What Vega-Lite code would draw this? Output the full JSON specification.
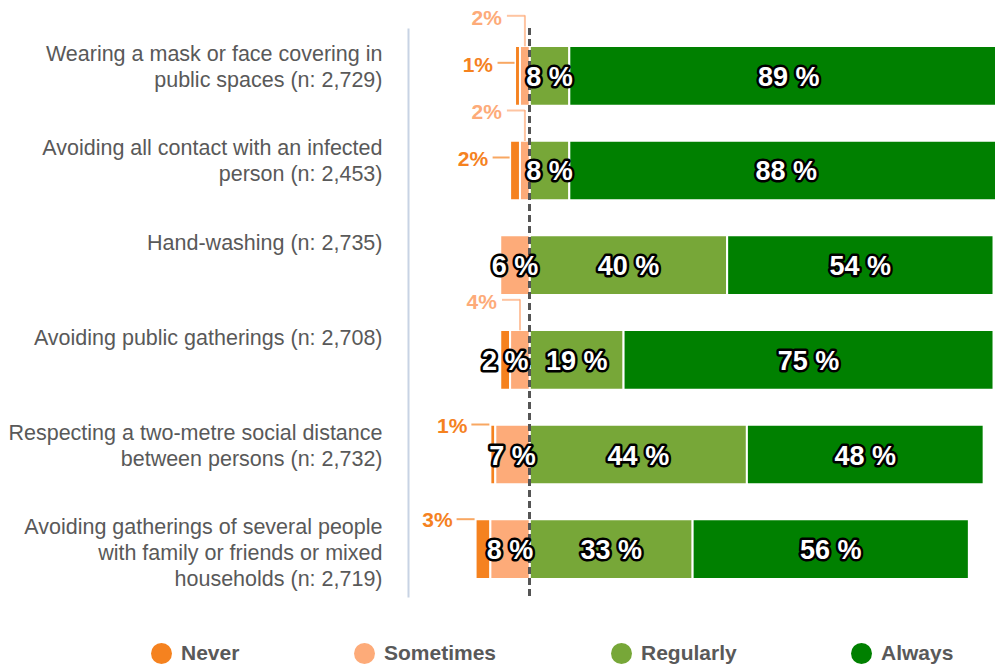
{
  "$schema": "https://vega.github.io/schema/vega-lite/v6.json",
  "width": 587,
  "height": 569,
  "autosize": {"type": "none"},
  "padding": {"left": 408, "top": 28, "right": 0, "bottom": 68},
  "background": "white",
  "config": {
    "view": {"stroke": null},
    "font": "Liberation Sans",
    "axisY": {
      "domainColor": "#c8d3e4",
      "domainWidth": 2,
      "ticks": false,
      "grid": false,
      "labelFontSize": 21.5,
      "labelColor": "#595959",
      "labelFont": "Liberation Sans",
      "labelPadding": 26,
      "labelLimit": 0,
      "labelLineHeight": 26,
      "labelBaseline": "middle",
      "labelOffset": -21,
      "title": null
    }
  },
  "data": {
    "values": [
      {"item": "Wearing a mask or face covering in|public spaces (n: 2,729)", "response": "Never", "pct": 1},
      {"item": "Wearing a mask or face covering in|public spaces (n: 2,729)", "response": "Sometimes", "pct": 2},
      {"item": "Wearing a mask or face covering in|public spaces (n: 2,729)", "response": "Regularly", "pct": 8},
      {"item": "Wearing a mask or face covering in|public spaces (n: 2,729)", "response": "Always", "pct": 89},
      {"item": "Avoiding all contact with an infected|person (n: 2,453)", "response": "Never", "pct": 2},
      {"item": "Avoiding all contact with an infected|person (n: 2,453)", "response": "Sometimes", "pct": 2},
      {"item": "Avoiding all contact with an infected|person (n: 2,453)", "response": "Regularly", "pct": 8},
      {"item": "Avoiding all contact with an infected|person (n: 2,453)", "response": "Always", "pct": 88},
      {"item": "Hand-washing (n: 2,735)", "response": "Never", "pct": 0},
      {"item": "Hand-washing (n: 2,735)", "response": "Sometimes", "pct": 6},
      {"item": "Hand-washing (n: 2,735)", "response": "Regularly", "pct": 40},
      {"item": "Hand-washing (n: 2,735)", "response": "Always", "pct": 54},
      {"item": "Avoiding public gatherings (n: 2,708)", "response": "Never", "pct": 2},
      {"item": "Avoiding public gatherings (n: 2,708)", "response": "Sometimes", "pct": 4},
      {"item": "Avoiding public gatherings (n: 2,708)", "response": "Regularly", "pct": 19},
      {"item": "Avoiding public gatherings (n: 2,708)", "response": "Always", "pct": 75},
      {"item": "Respecting a two-metre social distance|between persons (n: 2,732)", "response": "Never", "pct": 1},
      {"item": "Respecting a two-metre social distance|between persons (n: 2,732)", "response": "Sometimes", "pct": 7},
      {"item": "Respecting a two-metre social distance|between persons (n: 2,732)", "response": "Regularly", "pct": 44},
      {"item": "Respecting a two-metre social distance|between persons (n: 2,732)", "response": "Always", "pct": 48},
      {"item": "Avoiding gatherings of several people|with family or friends or mixed|households (n: 2,719)", "response": "Never", "pct": 3},
      {"item": "Avoiding gatherings of several people|with family or friends or mixed|households (n: 2,719)", "response": "Sometimes", "pct": 8},
      {"item": "Avoiding gatherings of several people|with family or friends or mixed|households (n: 2,719)", "response": "Regularly", "pct": 33},
      {"item": "Avoiding gatherings of several people|with family or friends or mixed|households (n: 2,719)", "response": "Always", "pct": 56}
    ]
  },
  "transform": [
    {"calculate": "datum.response == 'Never' || datum.response == 'Sometimes' ? -datum.pct : datum.pct", "as": "signed"},
    {"calculate": "datum.response == 'Sometimes' ? 0 : datum.response == 'Never' ? 1 : datum.response == 'Regularly' ? 2 : 3", "as": "ord"},
    {"stack": "signed", "groupby": ["item"], "sort": [{"field": "ord", "order": "ascending"}], "as": ["x0", "x1"]},
    {"calculate": "(datum.x0 + datum.x1) / 2", "as": "mid"},
    {"calculate": "min(datum.x0, datum.x1)", "as": "leftEdge"},
    {"calculate": "datum.pct + ' %'", "as": "lab"},
    {"calculate": "datum.pct + '%'", "as": "clab"}
  ],
  "layer": [
    {
      "transform": [{"filter": "datum.pct > 0"}],
      "mark": {"type": "bar", "stroke": "white", "strokeWidth": 2, "clip": true},
      "encoding": {
        "y": {"field": "item", "type": "nominal", "sort": null, "scale": {"paddingInner": 0.37, "paddingOuter": 0.19}, "axis": {"labelExpr": "split(datum.value, '|')"}},
        "x": {"field": "x0", "type": "quantitative", "scale": {"domain": [-24.7, 94.3], "nice": false, "zero": false}, "axis": null},
        "x2": {"field": "x1"},
        "color": {
          "field": "response",
          "type": "nominal",
          "scale": {"domain": ["Never", "Sometimes", "Regularly", "Always"], "range": ["#f5821f", "#fdab79", "#77a738", "#008000"]},
          "legend": {
            "title": null,
            "orient": "none",
            "legendX": -257,
            "legendY": 615,
            "direction": "horizontal",
            "columns": 4,
            "columnPadding": 114,
            "symbolType": "circle",
            "symbolSize": 440,
            "symbolStrokeWidth": 0,
            "labelFontSize": 21,
            "labelFontWeight": "bold",
            "labelColor": "#595959",
            "labelFont": "Liberation Sans",
            "labelOffset": 9,
            "labelLimit": 0
          }
        }
      }
    },
    {
      "mark": {"type": "rule", "color": "#555555", "strokeWidth": 2, "strokeDash": [7, 4]},
      "encoding": {"x": {"datum": 0}}
    },
    {
      "transform": [{"filter": "datum.pct >= 5 || (datum.response == 'Never' && indexof(datum.item, 'Avoiding public gatherings') == 0)"}],
      "mark": {"type": "text", "fontSize": 27, "fontWeight": "bold", "fill": "black", "stroke": "black", "strokeWidth": 5, "strokeJoin": "round", "align": "center", "baseline": "middle", "dy": 2},
      "encoding": {
        "y": {"field": "item", "type": "nominal", "sort": null, "axis": {"labelExpr": "split(datum.value, '|')"}},
        "x": {"field": "mid", "type": "quantitative"},
        "text": {"field": "lab"}
      }
    },
    {
      "transform": [{"filter": "datum.pct >= 5 || (datum.response == 'Never' && indexof(datum.item, 'Avoiding public gatherings') == 0)"}],
      "mark": {"type": "text", "fontSize": 27, "fontWeight": "bold", "fill": "white", "align": "center", "baseline": "middle", "dy": 2},
      "encoding": {
        "y": {"field": "item", "type": "nominal", "sort": null, "axis": {"labelExpr": "split(datum.value, '|')"}},
        "x": {"field": "mid", "type": "quantitative"},
        "text": {"field": "lab"}
      }
    },
    {
      "transform": [{"filter": "datum.response == 'Sometimes' && datum.pct < 5"}],
      "mark": {"type": "tick", "orient": "vertical", "size": 31, "thickness": 2, "color": "#fdab79", "yOffset": -45},
      "encoding": {
        "y": {"field": "item", "type": "nominal", "sort": null, "axis": {"labelExpr": "split(datum.value, '|')"}},
        "x": {"field": "mid", "type": "quantitative"}
      }
    },
    {
      "transform": [{"filter": "datum.response == 'Sometimes' && datum.pct < 5"}],
      "mark": {"type": "tick", "orient": "horizontal", "size": 18, "thickness": 2, "color": "#fdab79", "yOffset": -60, "xOffset": -9},
      "encoding": {
        "y": {"field": "item", "type": "nominal", "sort": null, "axis": {"labelExpr": "split(datum.value, '|')"}},
        "x": {"field": "mid", "type": "quantitative"}
      }
    },
    {
      "transform": [{"filter": "datum.response == 'Sometimes' && datum.pct < 5"}],
      "mark": {"type": "text", "fontSize": 21, "fontWeight": "bold", "color": "#fdab79", "align": "right", "baseline": "middle", "dx": -23, "dy": -57},
      "encoding": {
        "y": {"field": "item", "type": "nominal", "sort": null, "axis": {"labelExpr": "split(datum.value, '|')"}},
        "x": {"field": "mid", "type": "quantitative"},
        "text": {"field": "clab"}
      }
    },
    {
      "transform": [{"filter": "datum.response == 'Never' && (indexof(datum.item, 'Wearing') == 0 || indexof(datum.item, 'Avoiding all') == 0)"}],
      "mark": {"type": "tick", "orient": "horizontal", "size": 17, "thickness": 2, "color": "#f5821f", "yOffset": -13, "xOffset": -9},
      "encoding": {
        "y": {"field": "item", "type": "nominal", "sort": null, "axis": {"labelExpr": "split(datum.value, '|')"}},
        "x": {"field": "leftEdge", "type": "quantitative"}
      }
    },
    {
      "transform": [{"filter": "datum.response == 'Never' && (indexof(datum.item, 'Wearing') == 0 || indexof(datum.item, 'Avoiding all') == 0)"}],
      "mark": {"type": "text", "fontSize": 21, "fontWeight": "bold", "color": "#f5821f", "align": "right", "baseline": "middle", "dx": -22, "dy": -10},
      "encoding": {
        "y": {"field": "item", "type": "nominal", "sort": null, "axis": {"labelExpr": "split(datum.value, '|')"}},
        "x": {"field": "leftEdge", "type": "quantitative"},
        "text": {"field": "clab"}
      }
    },
    {
      "transform": [{"filter": "datum.response == 'Never' && (indexof(datum.item, 'Respecting') == 0 || indexof(datum.item, 'Avoiding gatherings') == 0)"}],
      "mark": {"type": "tick", "orient": "horizontal", "size": 18, "thickness": 2, "color": "#f5821f", "yOffset": -30, "xOffset": -10},
      "encoding": {
        "y": {"field": "item", "type": "nominal", "sort": null, "axis": {"labelExpr": "split(datum.value, '|')"}},
        "x": {"field": "leftEdge", "type": "quantitative"}
      }
    },
    {
      "transform": [{"filter": "datum.response == 'Never' && (indexof(datum.item, 'Respecting') == 0 || indexof(datum.item, 'Avoiding gatherings') == 0)"}],
      "mark": {"type": "text", "fontSize": 21, "fontWeight": "bold", "color": "#f5821f", "align": "right", "baseline": "middle", "dx": -23, "dy": -28},
      "encoding": {
        "y": {"field": "item", "type": "nominal", "sort": null, "axis": {"labelExpr": "split(datum.value, '|')"}},
        "x": {"field": "leftEdge", "type": "quantitative"},
        "text": {"field": "clab"}
      }
    }
  ]
}
